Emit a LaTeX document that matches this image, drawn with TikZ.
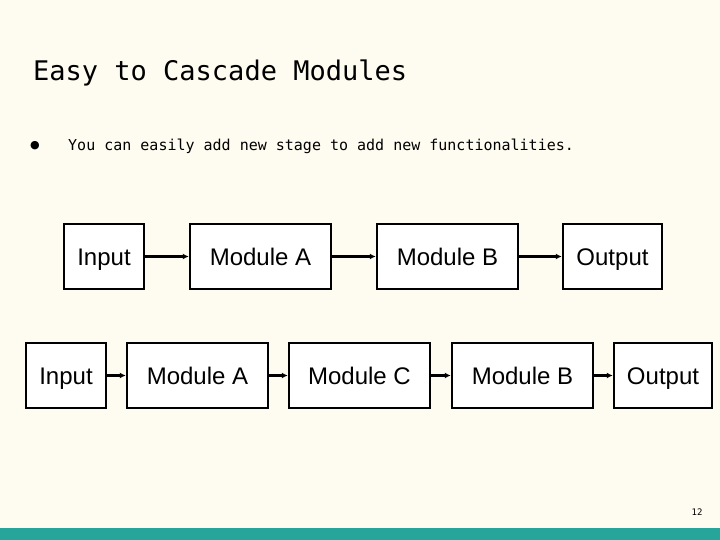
\documentclass[tikz,border=0pt]{standalone}
\usepackage{fontspec}
\setmainfont{Liberation Sans}
\newfontfamily\monof{DejaVu Sans Mono}
\newfontfamily\dejav{DejaVu Sans}
\definecolor{bg}{HTML}{FEFBF0}
\definecolor{teal}{HTML}{26A69A}
\usetikzlibrary{arrows.meta}
\begin{document}
\begin{tikzpicture}[x=1pt,y=-1pt,
  box/.style={draw=black,line width=2.5pt,fill=white,minimum height=65pt,inner sep=0pt,text height=17pt,text depth=0pt,font=\fontsize{24}{28}\selectfont},
  conn/.style={line width=2.5pt,-{Latex[length=6pt,width=6pt]}}]
\fill[bg] (0,0) rectangle (720,540);
\useasboundingbox (0,0) rectangle (720,540);
\fill[teal] (0,528) rectangle (720,540);
\node[anchor=west,inner sep=0pt,font=\monof\fontsize{27}{30}\selectfont] (title) at (33,73) {Easy to Cascade Modules};
\node[anchor=west,inner sep=0pt,font=\dejav\fontsize{11}{12}\selectfont] (dot) at (30,146) {●};
\node[anchor=west,inner sep=0pt,font=\monof\fontsize{15}{17}\selectfont] (bul) at (68,146) {You can easily add new stage to add new functionalities.};
\node[anchor=east,font=\monof\fontsize{9}{10}\selectfont] (pg) at (706,512) {12};
% top row
\node[box,minimum width=80pt] (t1) at (104,256.5) {Input};
\node[box,minimum width=141pt] (t2) at (260.5,256.5) {Module A};
\node[box,minimum width=141pt] (t3) at (447.5,256.5) {Module B};
\node[box,minimum width=99pt] (t4) at (612.5,256.5) {Output};
% bottom row
\node[box,minimum width=80pt] (b1) at (66,375.5) {Input};
\node[box,minimum width=141pt] (b2) at (197.5,375.5) {Module A};
\node[box,minimum width=141pt] (b3) at (359.5,375.5) {Module C};
\node[box,minimum width=141pt] (b4) at (522.5,375.5) {Module B};
\node[box,minimum width=98pt] (b5) at (663,375.5) {Output};
\draw[conn] (t1) -- (t2);
\draw[conn] (t2) -- (t3);
\draw[conn] (t3) -- (t4);
\draw[conn] (b1) -- (b2);
\draw[conn] (b2) -- (b3);
\draw[conn] (b3) -- (b4);
\draw[conn] (b4) -- (b5);
\end{tikzpicture}
\end{document}
